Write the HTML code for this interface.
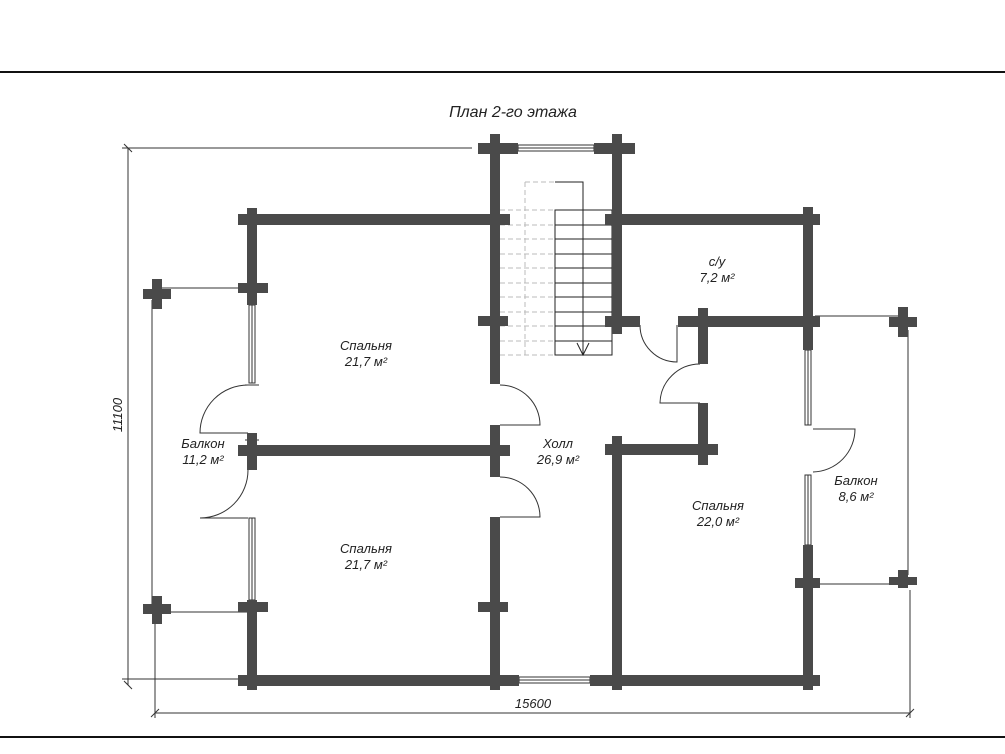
<!DOCTYPE html>
<html><head><meta charset="utf-8"><style>
body{margin:0;background:#fff}
svg{display:block}
text{font-family:"Liberation Sans",sans-serif;font-style:italic;fill:#222}
</style></head><body>
<svg width="1005" height="754" viewBox="0 0 1005 754">
<rect width="1005" height="754" fill="#fff"/>
<line x1="0" y1="72" x2="1005" y2="72" stroke="#111" stroke-width="2"/>
<line x1="0" y1="737" x2="1005" y2="737" stroke="#111" stroke-width="2"/>
<text x="513" y="117" font-size="16" text-anchor="middle">План 2-го этажа</text>
<g stroke="#333" stroke-width="1" fill="none">
<line x1="128" y1="148" x2="128" y2="685"/>
<line x1="122" y1="148" x2="472" y2="148"/>
<line x1="122" y1="679" x2="240" y2="679"/>
<line x1="155" y1="713" x2="910" y2="713"/>
<line x1="155" y1="620" x2="155" y2="718"/>
<line x1="910" y1="590" x2="910" y2="718"/>
<line x1="124" y1="144" x2="132" y2="152"/><line x1="124" y1="681" x2="132" y2="689"/>
<line x1="151" y1="717" x2="159" y2="709"/><line x1="906" y1="717" x2="914" y2="709"/>
<line x1="157" y1="288" x2="252" y2="288"/>
<line x1="157" y1="612" x2="252" y2="612"/>
<line x1="152" y1="300" x2="152" y2="605"/>
<line x1="815" y1="316" x2="903" y2="316"/>
<line x1="908" y1="330" x2="908" y2="575"/>
<line x1="815" y1="584" x2="903" y2="584"/>
</g>
<text x="122" y="415" font-size="13" transform="rotate(-90 122 415)" text-anchor="middle">11100</text>
<text x="533" y="708" font-size="13" text-anchor="middle">15600</text>
<g stroke="#bbb" stroke-width="1" stroke-dasharray="5,3" fill="none">
<line x1="525" y1="182" x2="555" y2="182"/><line x1="525" y1="182" x2="525" y2="355"/>
<line x1="500" y1="210" x2="553" y2="210"/><line x1="500" y1="225" x2="553" y2="225"/>
<line x1="500" y1="239" x2="553" y2="239"/><line x1="500" y1="254" x2="553" y2="254"/>
<line x1="500" y1="268" x2="553" y2="268"/><line x1="500" y1="283" x2="553" y2="283"/>
<line x1="500" y1="297" x2="553" y2="297"/><line x1="500" y1="312" x2="553" y2="312"/>
<line x1="500" y1="326" x2="553" y2="326"/><line x1="500" y1="341" x2="553" y2="341"/>
<line x1="500" y1="355" x2="553" y2="355"/>
</g>
<g stroke="#222" stroke-width="1" fill="none">
<rect x="555" y="210" width="57" height="145"/>
<line x1="555" y1="225" x2="612" y2="225"/><line x1="555" y1="239" x2="612" y2="239"/>
<line x1="555" y1="254" x2="612" y2="254"/><line x1="555" y1="268" x2="612" y2="268"/>
<line x1="555" y1="283" x2="612" y2="283"/><line x1="555" y1="297" x2="612" y2="297"/>
<line x1="555" y1="312" x2="612" y2="312"/><line x1="555" y1="326" x2="612" y2="326"/>
<line x1="555" y1="341" x2="612" y2="341"/>
<polyline points="555,182 583,182 583,355"/>
<polyline points="577,343 583,355 589,343"/>
</g>
<g stroke="#333" stroke-width="1" fill="none">
<path d="M248 385 A48 48 0 0 0 200 433 L248 433"/>
<path d="M248 470 A48 48 0 0 1 200 518 L248 518"/>
<path d="M500 385 A40 40 0 0 1 540 425 L500 425"/>
<path d="M500 477 A40 40 0 0 1 540 517 L500 517"/>
<path d="M640 325 A37 37 0 0 0 677 362 L677 325"/>
<path d="M700 364 A40 40 0 0 0 660 403 L700 403"/>
<path d="M813 429 L855 429 A43 43 0 0 1 813 472"/>
<rect x="249" y="305" width="6" height="78"/><line x1="252" y1="305" x2="252" y2="383"/>
<rect x="249" y="518" width="6" height="82"/><line x1="252" y1="518" x2="252" y2="600"/>
<rect x="805" y="350" width="6" height="75"/><line x1="808" y1="350" x2="808" y2="425"/>
<rect x="805" y="475" width="6" height="70"/><line x1="808" y1="475" x2="808" y2="545"/>
<rect x="518" y="145" width="76" height="6"/><line x1="518" y1="148" x2="594" y2="148"/>
<rect x="519" y="677" width="71" height="6"/><line x1="519" y1="680" x2="590" y2="680"/>
<line x1="245" y1="385" x2="259" y2="385"/><line x1="245" y1="440" x2="259" y2="440"/>
</g>
<g fill="#4a4a4a">
<rect x="247" y="208" width="10" height="97"/>
<rect x="247" y="433" width="10" height="37"/>
<rect x="247" y="600" width="10" height="90"/>
<rect x="238" y="214" width="272" height="11"/>
<rect x="238" y="283" width="30" height="10"/>
<rect x="238" y="445" width="272" height="11"/>
<rect x="238" y="602" width="30" height="10"/>
<rect x="238" y="675" width="281" height="11"/>
<rect x="590" y="675" width="190" height="11"/>
<rect x="780" y="675" width="40" height="11"/>
<rect x="490" y="134" width="10" height="250"/>
<rect x="490" y="425" width="10" height="52"/>
<rect x="490" y="517" width="10" height="173"/>
<rect x="478" y="143" width="40" height="11"/>
<rect x="594" y="143" width="41" height="11"/>
<rect x="478" y="316" width="30" height="10"/>
<rect x="478" y="602" width="30" height="10"/>
<rect x="612" y="134" width="10" height="200"/>
<rect x="605" y="214" width="215" height="11"/>
<rect x="605" y="316" width="35" height="11"/>
<rect x="678" y="316" width="142" height="11"/>
<rect x="698" y="308" width="10" height="56"/>
<rect x="698" y="403" width="10" height="62"/>
<rect x="605" y="444" width="113" height="11"/>
<rect x="612" y="436" width="10" height="254"/>
<rect x="803" y="207" width="10" height="143"/>
<rect x="803" y="545" width="10" height="145"/>
<rect x="795" y="578" width="25" height="10"/>
<rect x="152" y="279" width="10" height="30"/><rect x="143" y="289" width="28" height="10"/>
<rect x="152" y="596" width="10" height="28"/><rect x="143" y="604" width="28" height="10"/>
<rect x="898" y="307" width="10" height="30"/><rect x="889" y="317" width="28" height="10"/>
<rect x="898" y="570" width="10" height="18"/><rect x="889" y="577" width="28" height="8"/>
</g>
<g font-size="13" text-anchor="middle">
<text x="366" y="350">Спальня</text><text x="366" y="366">21,7 м²</text>
<text x="366" y="553">Спальня</text><text x="366" y="569">21,7 м²</text>
<text x="203" y="448">Балкон</text><text x="203" y="464">11,2 м²</text>
<text x="558" y="448">Холл</text><text x="558" y="464">26,9 м²</text>
<text x="718" y="510">Спальня</text><text x="718" y="526">22,0 м²</text>
<text x="717" y="266">с/у</text><text x="717" y="282">7,2 м²</text>
<text x="856" y="485">Балкон</text><text x="856" y="501">8,6 м²</text>
</g>
</svg>
</body></html>
